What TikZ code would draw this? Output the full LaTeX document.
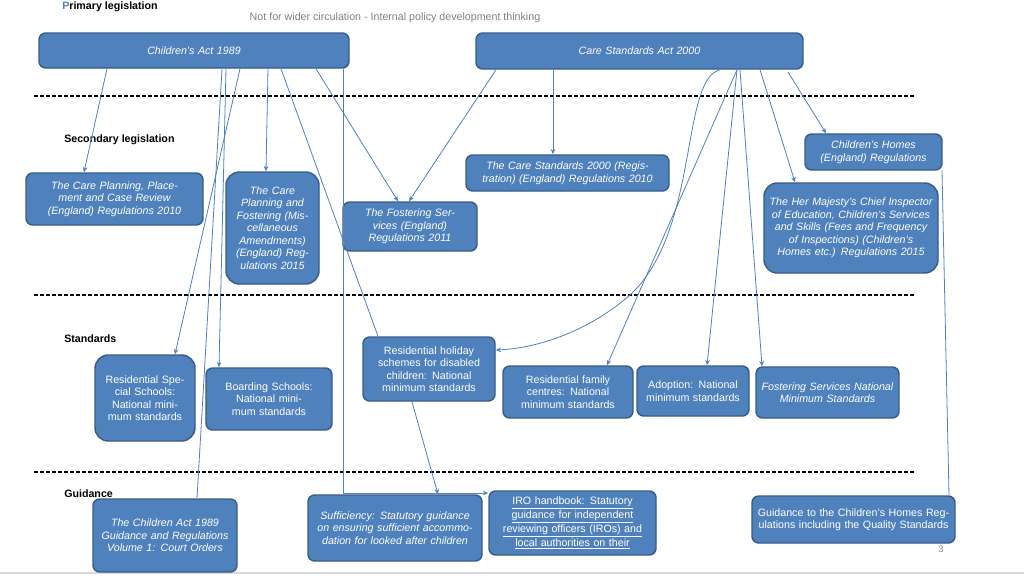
\documentclass[tikz,border=0pt]{standalone}
\usepackage{fontspec}
\setmainfont{Liberation Sans}
\usetikzlibrary{arrows.meta}
\definecolor{bfill}{HTML}{4F81BD}
\definecolor{bdraw}{HTML}{385D8A}
\definecolor{lcol}{HTML}{4F81BD}
\tikzset{
 box/.style={draw=bdraw,line width=1.1pt,fill=bfill,rounded corners=5pt,text=white,align=center,inner sep=1pt,font=\fontsize{8}{9.4}\selectfont},
 it/.style={font=\fontsize{8}{9.4}\selectfont\itshape},
 con/.style={draw=lcol,line width=0.6pt},
 arr/.style={con,-{Stealth[length=4pt,width=3.5pt]}},
 sep/.style={line width=1pt,dash pattern=on 3pt off 1.5pt},
 lab/.style={anchor=west,font=\fontsize{8}{9}\selectfont\bfseries,inner sep=0pt}
}
\newcommand\bx[7][]{\node[box,#1,minimum width={(#5-#3)*0.75pt},minimum height={(#6-#4)*0.75pt},text width={(#5-#3-10)*0.75pt}] (#2) at ({(#3+#5)/2},{(#4+#6)/2}) {#7};}
\begin{document}
\begin{tikzpicture}[x=0.75pt,y=-0.75pt]
\useasboundingbox[fill=white] (0,0) rectangle (1024,576);
\node[lab,font=\fontsize{8}{9}\selectfont\bfseries] (pl) at (62,7) {\textcolor{bfill}{P}rimary legislation};
\node[font=\fontsize{8}{9}\selectfont,text=gray] (nf) at (395,18) {Not for wider circulation - Internal policy development thinking};
\node[lab] (sl) at (64,140) {Secondary legislation};
\node[lab] (st) at (64,339) {Standards};
\node[lab] (gu) at (64,494) {Guidance};
\node[font=\fontsize{7}{8}\selectfont,text=gray] (pg) at (941,549) {3};
\draw[sep] (34,96) -- (916,96);
\draw[sep] (34,295) -- (916,295);
\draw[sep] (34,472) -- (916,472);
\draw[gray!30,line width=1pt] (0,573) -- (1024,573);
% primary
\bx[it]{CA}{39}{33}{349}{68}{Children's Act 1989}
\bx[it]{CSA}{476}{33}{803}{69}{Care Standards Act 2000}
% secondary
\bx[it]{CPP}{26}{173}{203}{225}{The Care Planning, Placement and Case Review (England) Regulations 2010}
\bx[it,rounded corners=10pt]{CPF}{226}{172}{319}{284}{The Care Planning and Fostering (Miscellaneous Amendments) (England) Regulations 2015}
\bx[it]{FS}{343}{202}{477}{251}{The Fostering Services (England) Regulations 2011}
\bx[it]{CSR}{466}{155}{669}{191}{The Care Standards 2000 (Registration) (England) Regulations 2010}
\bx[it]{CHR}{805}{134}{942}{170}{Children's Homes (England) Regulations}
\bx[it,rounded corners=10pt]{HMCI}{764}{183}{938}{273}{The Her Majesty's Chief Inspector of Education, Children's Services and Skills (Fees and Frequency of Inspections) (Children's Homes etc.) Regulations 2015}
% standards
\bx[rounded corners=10pt]{RSS}{95}{355}{195}{441}{Residential Special Schools: National minimum standards}
\bx{BS}{206}{368}{332}{430}{Boarding Schools: National minimum standards}
\bx{RH}{363}{337}{495}{401}{Residential holiday schemes for disabled children: National minimum standards}
\bx{RF}{503}{366}{633}{418}{Residential family centres: National minimum standards}
\bx{AD}{637}{366}{749}{416}{Adoption: National minimum standards}
\bx[it]{FSN}{756}{367}{899}{418}{Fostering Services National Minimum Standards}
% guidance
\bx[it]{CAG}{93}{499}{237}{572}{The Children Act 1989 Guidance and Regulations Volume 1: Court Orders}
\bx[it]{SUF}{308}{495}{482}{561}{Sufficiency: Statutory guidance on ensuring sufficient accommodation for looked after children}
\bx{IRO}{489}{491}{656}{555}{\underline{IRO handbook: Statutory}\\\underline{guidance for independent}\\\underline{reviewing officers (IROs) and}\\\underline{local authorities on their}}
\bx{GCH}{752}{496}{955}{543}{Guidance to the Children's Homes Regulations including the Quality Standards}
% connectors from CA
\draw[arr] (107,0 |- CA.south) -- (84,0 |- CPP.north);
\draw[con] (222,0 |- CA.south) -- (197,0 |- CAG.north);
\draw[arr] (226,0 |- CA.south) -- (219,0 |- BS.north);
\draw[arr] (240,0 |- CA.south) -- (175,0 |- RSS.north);
\draw[arr] (268,0 |- CA.south) -- (266,0 |- CPF.north);
\draw[con] (281,0 |- CA.south) -- (378,0 |- RH.north);
\draw[arr] (316,0 |- CA.south) -- (398,0 |- FS.north);
\draw[arr] (343,0 |- CA.south) -- (343,493) -- (IRO.west |- 0,493);
\draw[arr] (412,0 |- RH.south) -- (438,0 |- SUF.north);
% from CSA
\draw[arr] (496,0 |- CSA.south) -- (409,0 |- FS.north);
\draw[arr] (553,0 |- CSA.south) -- (553,0 |- CSR.north);
\draw[arr] (720,0 |- CSA.south) .. controls (680,80) and (700,230) .. (630,295) .. controls (590,330) and (540,348) .. (RH.east |- 0,350);
\draw[arr] (737,0 |- CSA.south) -- (607,0 |- RF.north);
\draw[arr] (737,0 |- CSA.south) -- (707,0 |- AD.north);
\draw[arr] (740,0 |- CSA.south) -- (762,0 |- FSN.north);
\draw[arr] (760,0 |- CSA.south) -- (795,0 |- HMCI.north);
\draw[arr] (788,72) -- (826,0 |- CHR.north);
\draw[con] (942,0 |- CHR.south) -- (949,0 |- GCH.north);
\end{tikzpicture}
\end{document}
